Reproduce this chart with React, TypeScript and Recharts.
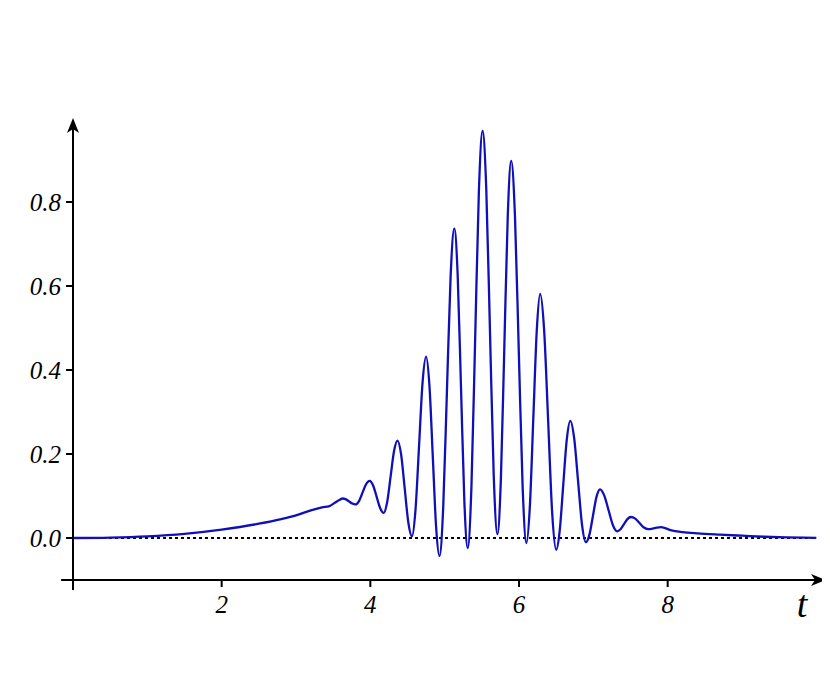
import { LineChart, Line, XAxis, YAxis, ReferenceLine } from "recharts";

// t-Werte und Amplitude
const tValues = [
  0, 0.5, 1.0, 1.5, 2.0, 2.5, 2.8, 3.0, 3.2, 3.35, 3.45, 3.55, 3.63,
  3.6725, 3.715, 3.7575, 3.8,
  3.8475, 3.895, 3.9425, 3.99,
  4.0375, 4.085, 4.1325, 4.18,
  4.226, 4.2725, 4.319, 4.365,
  4.414, 4.4625, 4.511, 4.56,
  4.6075, 4.655, 4.7025, 4.75,
  4.795, 4.84, 4.885, 4.93,
  4.98, 5.03, 5.08, 5.13,
  5.175, 5.22, 5.265, 5.31,
  5.36, 5.41, 5.46, 5.51,
  5.56, 5.61, 5.66, 5.71,
  5.756, 5.8025, 5.849, 5.895,
  5.946, 5.9975, 6.049, 6.1,
  6.146, 6.1925, 6.239, 6.285,
  6.339, 6.3925, 6.446, 6.5,
  6.5475, 6.595, 6.6425, 6.69,
  6.7425, 6.795, 6.8475, 6.9,
  6.9475, 6.995, 7.0425, 7.09,
  7.1475, 7.205, 7.2625, 7.32,
  7.366, 7.4125, 7.459, 7.505,
  7.564, 7.6225, 7.681, 7.74,
  7.825, 7.91,
  8.05, 8.2, 8.4, 8.7, 9.0, 9.3, 9.6, 10.0,
];
const amplitude = [
  0, 0.001, 0.004, 0.01, 0.02, 0.034, 0.045, 0.054, 0.066, 0.073, 0.076, 0.087, 0.094,
  0.092, 0.087, 0.082, 0.08,
  0.088, 0.108, 0.128, 0.136,
  0.125, 0.098, 0.071, 0.06,
  0.085, 0.146, 0.207, 0.232,
  0.199, 0.118, 0.037, 0.004,
  0.067, 0.218, 0.37, 0.432,
  0.363, 0.195, 0.026, -0.043,
  0.071, 0.347, 0.623, 0.737,
  0.626, 0.357, 0.087, -0.024,
  0.121, 0.473, 0.824, 0.969,
  0.829, 0.489, 0.149, 0.009,
  0.139, 0.454, 0.768, 0.898,
  0.765, 0.443, 0.121, -0.012,
  0.075, 0.285, 0.494, 0.581,
  0.492, 0.277, 0.061, -0.028,
  0.017, 0.126, 0.234, 0.279,
  0.237, 0.135, 0.032, -0.01,
  0.008, 0.053, 0.098, 0.116,
  0.101, 0.066, 0.031, 0.016,
  0.021, 0.033, 0.045, 0.05,
  0.046, 0.0355, 0.025, 0.021,
  0.0235, 0.026,
  0.018, 0.014, 0.011, 0.008, 0.0055, 0.003, 0.0015, 0.0005,
];
const xTicks = [2, 4, 6, 8];
const yTicks = [0, 0.2, 0.4, 0.6, 0.8];

const data = tValues.map((t, i) => ({ t, y: amplitude[i] }));

const serif = "Liberation Serif, DejaVu Serif, serif";

const tickFont = {
  fontFamily: serif,
  fontStyle: "italic",
  fontSize: 25,
  fill: "#000",
};

// x-Achse mit Pfeil und Beschriftung t
function XAxisArrow(props: any) {
  const { x1, y1, x2, y2 } = props;
  return (
    <g>
      <line x1={x1} y1={y1} x2={x2 - 8} y2={y2} stroke="#000" strokeWidth={2} />
      <polygon
        points={`${x2},${y2} ${x2 - 15},${y2 - 6} ${x2 - 11},${y2} ${x2 - 15},${y2 + 6}`}
        fill="#000"
      />
      <text
        x={x2 - 24}
        y={y2 + 37}
        textAnchor="middle"
        fontFamily={serif}
        fontStyle="italic"
        fontSize={38}
        fill="#000"
      >
        t
      </text>
    </g>
  );
}

// y-Achse mit Pfeil
function YAxisArrow(props: any) {
  const { x1, y1, x2, y2 } = props;
  return (
    <g>
      <line x1={x1} y1={y1} x2={x2} y2={y2 + 8} stroke="#000" strokeWidth={2} />
      <polygon
        points={`${x2},${y2} ${x2 - 6},${y2 + 15} ${x2},${y2 + 11} ${x2 + 6},${y2 + 15}`}
        fill="#000"
      />
    </g>
  );
}

export default function App() {
  return (
    <LineChart
      width={822}
      height={660}
      data={data}
      margin={{ top: 110, right: 4, left: 0, bottom: 48 }}
    >
      <XAxis
        dataKey="t"
        type="number"
        domain={[0, 10.13]}
        allowDataOverflow
        ticks={xTicks}
        axisLine={false}
        tickLine={{ stroke: "#000", strokeWidth: 2 }}
        tickSize={7}
        tickMargin={8}
        tick={tickFont}
        height={40}
      />
      <YAxis
        type="number"
        domain={[-0.1, 1.0]}
        allowDataOverflow
        ticks={yTicks}
        tickFormatter={(v: number) => v.toFixed(1)}
        axisLine={false}
        tickLine={{ stroke: "#000", strokeWidth: 2 }}
        tickSize={7}
        tickMargin={5}
        tick={tickFont}
        width={65}
      />
      <ReferenceLine
        segment={[{ x: 0, y: 0 }, { x: 10, y: 0 }]}
        stroke="#000"
        strokeWidth={2}
        strokeDasharray="3 3"
        ifOverflow="visible"
      />
      <Line
        type="monotone"
        dataKey="y"
        stroke="#1010b8"
        strokeWidth={2.3}
        dot={false}
        activeDot={false}
        isAnimationActive={false}
      />
      <ReferenceLine
        segment={[{ x: -0.16, y: -0.1 }, { x: 10.13, y: -0.1 }]}
        ifOverflow="visible"
        shape={XAxisArrow}
      />
      <ReferenceLine
        segment={[{ x: 0, y: -0.124 }, { x: 0, y: 1.0 }]}
        ifOverflow="visible"
        shape={YAxisArrow}
      />
    </LineChart>
  );
}
